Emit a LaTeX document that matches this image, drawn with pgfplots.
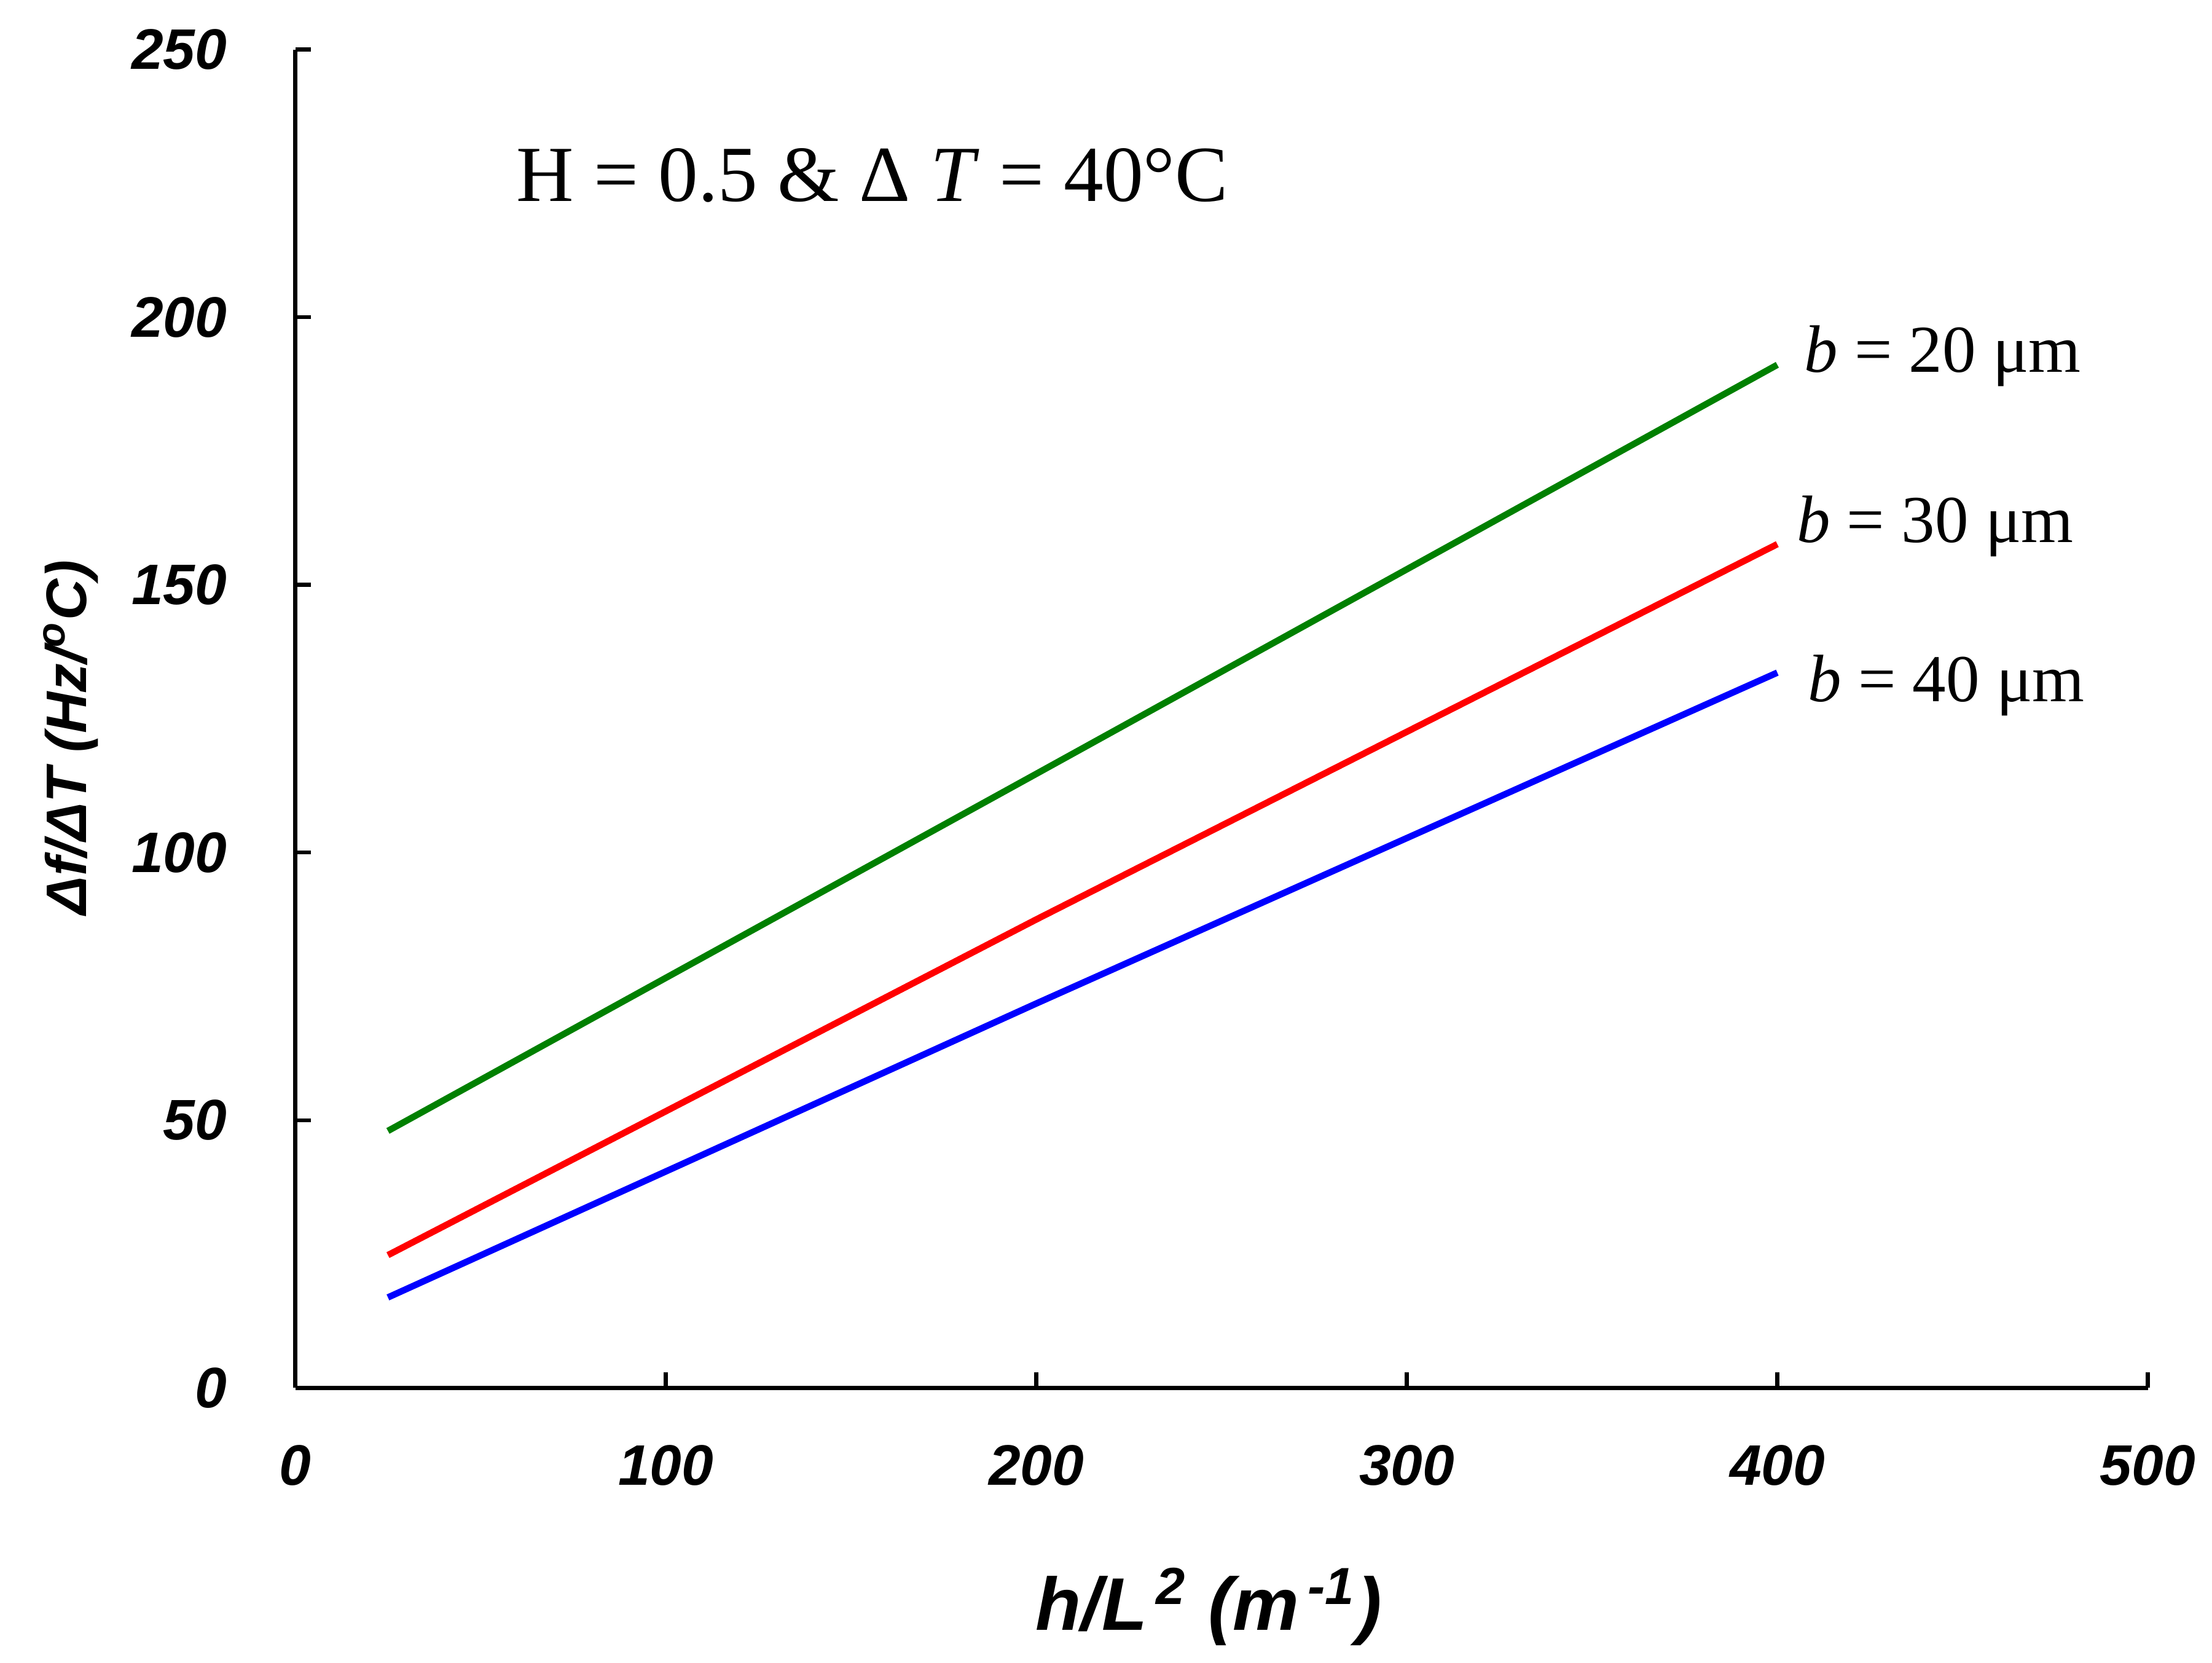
\documentclass[border=0pt]{standalone}
\usepackage{fontspec}
\setmainfont{Liberation Serif}
\setsansfont{Liberation Sans}
\usepackage{pgfplots}
\pgfplotsset{compat=1.18}
\definecolor{lgreen}{RGB}{0,128,0}
\begin{document}
\begin{tikzpicture}
\begin{axis}[
    scale only axis,
    width=13.11cm, height=9.47cm,
    xmin=0, xmax=500, ymin=0, ymax=250,
    axis lines=left,
    axis line style={-, line width=0.8pt},
    xtick={0,100,...,500},
    ytick={0,50,...,250},
    tick align=inside,
    major tick length=0.11cm,
    tick style={black, line width=0.8pt},
    /pgf/number format/assume math mode=true,
    tick label style={font=\sffamily\bfseries\itshape\fontsize{11.5}{13}\selectfont},
    xticklabel shift=0.28cm,
    yticklabel shift=0.36cm,
    xlabel={h/L\textsuperscript{\,2} (m\textsuperscript{\,-1})},
    ylabel={Δf/ΔT (Hz/\textsuperscript{o}C)},
    xlabel style={font=\sffamily\bfseries\itshape\fontsize{15}{17}\selectfont,
        at={(axis description cs:0.493,0)}, anchor=center, yshift=-1.55cm},
    ylabel style={font=\sffamily\bfseries\itshape\fontsize{11.5}{13}\selectfont,
        at={(axis description cs:-0.1213,0.486)}, anchor=center},
]
\addplot[lgreen, line width=1.3pt] coordinates {(25,48.0) (200,114.7) (400,191.1)};
\addplot[red, line width=1.3pt] coordinates {(25,24.8) (200,87.5) (400,157.6)};
\addplot[blue, line width=1.3pt] coordinates {(25,16.9) (200,71.8) (400,133.6)};
\node[anchor=west, font=\fontsize{16}{18}\selectfont] at (axis cs:55,226.5) {H = 0.5 \& Δ \textit{T} = 40°C};
\node[anchor=west, font=\fontsize{13.5}{15}\selectfont] at (axis cs:402.5,192.7) {\textit{b} = 20 μm};
\node[anchor=west, font=\fontsize{13.5}{15}\selectfont] at (axis cs:400.5,161) {\textit{b} = 30 μm};
\node[anchor=west, font=\fontsize{13.5}{15}\selectfont] at (axis cs:403.5,131.2) {\textit{b} = 40 μm};
\end{axis}
\path (current axis.south west) ++(-2.09cm,-1.94cm) rectangle ++(15.6cm,11.76cm);
\end{tikzpicture}
\end{document}
